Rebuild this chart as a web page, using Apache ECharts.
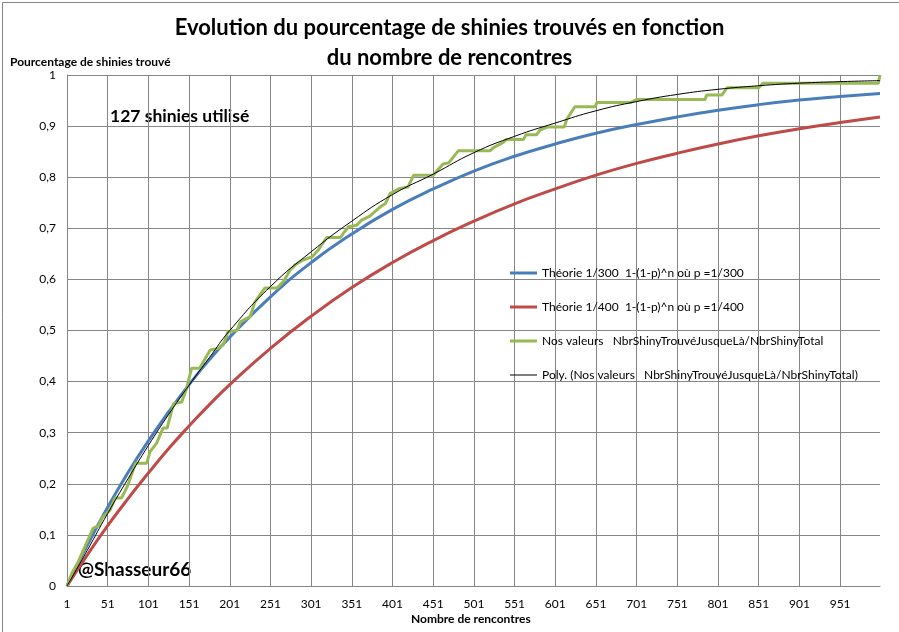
<!DOCTYPE html>
<html>
<head>
<meta charset="utf-8">
<script src="https://cdn.jsdelivr.net/npm/echarts@6/dist/echarts.min.js"></script>
<style>
  html, body { margin: 0; padding: 0; background: #fff; }
  #chart { width: 899px; height: 632px; }
</style>
</head>
<body>
<div id="chart"></div>
<script>
// rencontres (axe x) pour les courbes lisses
var theoN = [1, 26, 51, 76, 101, 126, 151, 176, 201, 251, 301, 351, 401, 451, 501, 551, 601, 651, 701, 751, 801, 851, 901, 951, 1000];
var theo300 = [0, 0.080, 0.154, 0.222, 0.284, 0.341, 0.394, 0.443, 0.487, 0.566, 0.633, 0.689, 0.737, 0.777, 0.812, 0.841, 0.865, 0.886, 0.903, 0.918, 0.931, 0.942, 0.951, 0.958, 0.964];
var theo400 = [0, 0.061, 0.118, 0.171, 0.221, 0.269, 0.313, 0.355, 0.394, 0.465, 0.528, 0.584, 0.633, 0.676, 0.714, 0.748, 0.777, 0.804, 0.827, 0.847, 0.865, 0.881, 0.895, 0.907, 0.918];
var polyV = [0, 0.070, 0.142, 0.210, 0.275, 0.336, 0.393, 0.447, 0.500, 0.586, 0.654, 0.714, 0.766, 0.806, 0.848, 0.880, 0.906, 0.930, 0.948, 0.962, 0.972, 0.979, 0.984, 0.987, 0.989];

// nos valeurs (courbe en escalier)
var nosN = [1, 7, 15, 33, 40, 44, 54, 60, 68, 76, 85, 99, 103, 111, 119, 124, 132, 142, 148, 154, 164, 177, 187, 193, 199, 210, 214, 226, 232, 244, 259, 267, 275, 281, 291, 302, 310, 320, 337, 341, 347, 357, 363, 373, 386, 392, 398, 410, 420, 427, 451, 455, 463, 470, 482, 521, 525, 537, 541, 562, 565, 578, 582, 591, 612, 615, 625, 650, 652, 693, 701, 785, 787, 806, 812, 851, 856, 998, 1000];
var nosV = [0, 0.025, 0.048, 0.113, 0.118, 0.133, 0.149, 0.172, 0.172, 0.198, 0.240, 0.240, 0.263, 0.279, 0.309, 0.309, 0.357, 0.360, 0.387, 0.426, 0.426, 0.462, 0.465, 0.472, 0.498, 0.500, 0.517, 0.527, 0.556, 0.583, 0.583, 0.596, 0.618, 0.628, 0.638, 0.644, 0.658, 0.682, 0.682, 0.691, 0.703, 0.706, 0.716, 0.724, 0.742, 0.748, 0.768, 0.778, 0.781, 0.804, 0.804, 0.811, 0.826, 0.828, 0.852, 0.852, 0.858, 0.868, 0.874, 0.874, 0.883, 0.883, 0.892, 0.898, 0.898, 0.913, 0.938, 0.938, 0.946, 0.946, 0.952, 0.952, 0.961, 0.961, 0.975, 0.975, 0.984, 0.984, 1.0];

var yTicks = [0, 1];
var names = [
  "Théorie 1/300  1-(1-p)^n où p =1/300",
  "Théorie 1/400  1-(1-p)^n où p =1/400",
  "Nos valeurs   NbrShinyTrouvéJusqueLà/NbrShinyTotal",
  "Poly. (Nos valeurs   NbrShinyTrouvéJusqueLà/NbrShinyTotal)"
];

function pairs(xs, ys) {
  return xs.map(function (x, i) { return [x, ys[i]]; });
}

var font = "Lato, 'Open Sans', sans-serif";
var thick = "path://M0,0H27V3H0Z";
var thin = "path://M0,0H27V1H0Z";
var chart = echarts.init(document.getElementById("chart"));

chart.setOption({
  animation: false,
  textStyle: { fontFamily: font },
  title: {
    text: "Evolution du pourcentage de shinies trouvés en fonction\ndu nombre de rencontres",
    left: "center",
    top: 8,
    textStyle: { fontSize: 22, fontWeight: "bold", color: "#000", lineHeight: 30, fontFamily: font }
  },
  grid: { left: 67, right: 19, top: 75, bottom: 46 },
  legend: {
    orient: "vertical",
    left: 505,
    top: 262,
    itemWidth: 27,
    itemHeight: 14,
    itemGap: 22,
    textStyle: { fontSize: 12, color: "#000", fontFamily: font },
    data: [
      { name: names[0], icon: thick },
      { name: names[1], icon: thick },
      { name: names[2], icon: thick },
      { name: names[3], icon: thin }
    ]
  },
  xAxis: {
    type: "value",
    min: 1,
    max: 1000,
    interval: 50,
    axisLine: { lineStyle: { color: "#868686" } },
    axisTick: { show: false },
    axisLabel: { showMaxLabel: false, fontSize: 12, color: "#000", margin: 12, fontFamily: font },
    splitLine: { show: true, showMaxLine: false, lineStyle: { color: "#868686", width: 1 } }
  },
  yAxis: {
    type: "value",
    min: yTicks[0],
    max: yTicks[1],
    interval: 0.1,
    axisLine: { show: true, lineStyle: { color: "#868686" } },
    axisTick: { show: false },
    axisLabel: {
      fontSize: 12, color: "#000", margin: 11, fontFamily: font,
      formatter: function (v) { return String(Math.round(v * 10) / 10).replace(".", ","); }
    },
    splitLine: { show: true, lineStyle: { color: "#868686", width: 1 } }
  },
  series: [
    {
      name: names[0], type: "line", smooth: true, symbol: "none",
      lineStyle: { color: "#4a7ebb", width: 3 }, itemStyle: { color: "#4a7ebb" },
      data: pairs(theoN, theo300)
    },
    {
      name: names[1], type: "line", smooth: true, symbol: "none",
      lineStyle: { color: "#be4b48", width: 3 }, itemStyle: { color: "#be4b48" },
      data: pairs(theoN, theo400)
    },
    {
      name: names[2], type: "line", symbol: "none",
      lineStyle: { color: "#98b954", width: 3 }, itemStyle: { color: "#98b954" },
      data: pairs(nosN, nosV)
    },
    {
      name: names[3], type: "line", smooth: true, symbol: "none",
      lineStyle: { color: "#000", width: 1 }, itemStyle: { color: "#000" },
      data: pairs(theoN, polyV)
    }
  ],
  graphic: [
    {
      type: "rect", left: 0, top: 0, z: -1,
      shape: { x: 0.5, y: 0.5, width: 897, height: 630 },
      style: { fill: "none", stroke: "#868686", lineWidth: 1 }
    },
    {
      type: "text", left: 10, top: 56,
      style: { text: "Pourcentage de shinies trouvé", font: "bold 12px " + font, fill: "#000" }
    },
    {
      type: "text", left: 411, top: 613,
      style: { text: "Nombre de rencontres", font: "bold 12px " + font, fill: "#000" }
    },
    {
      type: "text", left: 110, top: 107,
      style: { text: "127 shinies utilisé", font: "bold 17.5px " + font, fill: "#000" }
    },
    {
      type: "text", left: 78, top: 560,
      style: { text: "@Shasseur66", font: "bold 19px " + font, fill: "#000" }
    }
  ]
});
</script>
</body>
</html>
